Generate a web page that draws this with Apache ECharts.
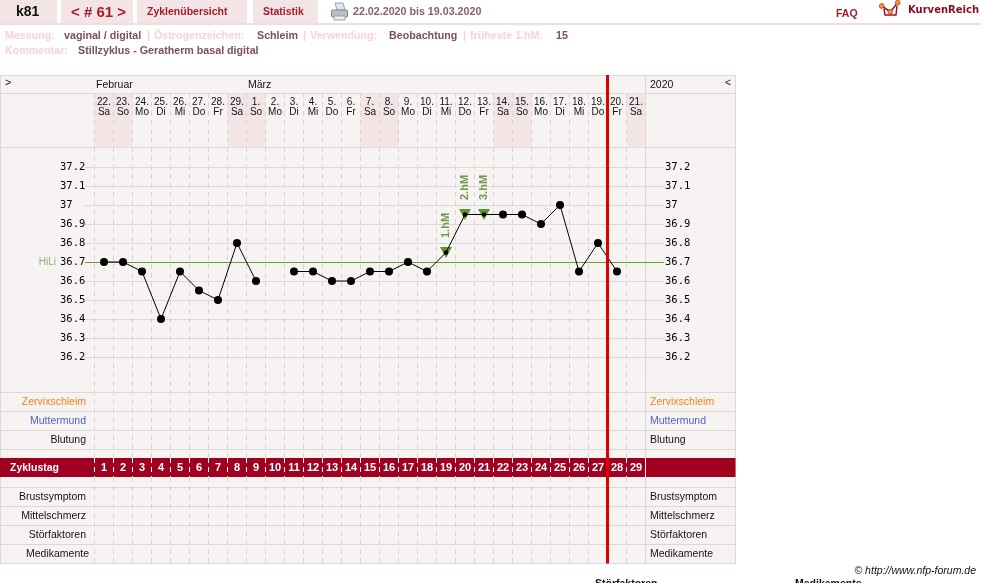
<!DOCTYPE html>
<html>
<head>
<meta charset="utf-8">
<title>Zyklusblatt k81</title>
<style>html,body{margin:0;padding:0;background:#fff}#chart{width:981px;height:583px}</style>
<script src="https://cdn.jsdelivr.net/npm/echarts@6/dist/echarts.min.js"></script>
</head>
<body>
<div id="chart"></div>
<script>
// Cycle data, one entry per cycle day
const cycleDays = [1,2,3,4,5,6,7,8,9,10,11,12,13,14,15,16,17,18,19,20,21,22,23,24,25,26,27,28,29];
const dates = ['22.','23.','24.','25.','26.','27.','28.','29.','1.','2.','3.','4.','5.','6.','7.','8.','9.','10.','11.','12.','13.','14.','15.','16.','17.','18.','19.','20.','21.'];
const weekdays = ['Sa','So','Mo','Di','Mi','Do','Fr','Sa','So','Mo','Di','Mi','Do','Fr','Sa','So','Mo','Di','Mi','Do','Fr','Sa','So','Mo','Di','Mi','Do','Fr','Sa'];
const temperatures = [36.7,36.7,36.65,36.4,36.65,36.55,36.5,36.8,36.6,null,36.65,36.65,36.6,36.6,36.65,36.65,36.7,36.65,36.75,36.95,36.95,36.95,36.95,36.9,37,36.65,36.8,36.65,null];
const higherMeasurements = [[18,36.75,'1.hM'],[19,36.95,'2.hM'],[20,36.95,'3.hM']];
const temperatureTicks = [36.2,36.3,36.4,36.5,36.6,36.7,36.8,36.9,37,37.1,37.2];
const coverLine = 36.7;
const daysElapsed = 27;
const upperRows = ['Zervixschleim','Muttermund','Blutung'];
const lowerRows = ['Brustsymptom','Mittelschmerz','Störfaktoren','Medikamente'];

const SANS = '"Liberation Sans", Arial, sans-serif';
const MONO = '"DejaVu Sans Mono", monospace';
const RULE = '#dcd8d8';
const PANEL = '#f8f3f3';
const WEEKEND = '#f3e4e6';
const MAROON = '#a00020';

const PLOT_LEFT = 94.5, PLOT_WIDTH = 551;
const grid = [], xAxis = [], yAxis = [], series = [];

function addGrid(left, top, width, height) {
  grid.push({ left, top, width, height, containLabel: false });
  return grid.length - 1;
}
function addCategoryX(gridIndex, extra) {
  xAxis.push(Object.assign({
    type: 'category', gridIndex, data: cycleDays, boundaryGap: true,
    axisLine: { show: false }, axisTick: { show: false }, axisLabel: { show: false }, splitLine: { show: false }
  }, extra));
  return xAxis.length - 1;
}
function addY(gridIndex, extra) {
  yAxis.push(Object.assign({
    gridIndex, axisLine: { show: false }, axisTick: { show: false }, axisLabel: { show: false }, splitLine: { show: false }
  }, extra));
  return yAxis.length - 1;
}
function dashes(color) {
  return { show: true, interval: 0, lineStyle: { color, width: 1, type: [5, 4] } };
}

// Dashed day separators above and below the cycle-day band, and inside it
const gUpper = addGrid(PLOT_LEFT, 93, PLOT_WIDTH, 365);
addCategoryX(gUpper, { z: 3, splitLine: dashes('#d9d5d5') });
addY(gUpper, { type: 'value', min: 0, max: 1 });

const gLower = addGrid(PLOT_LEFT, 477, PLOT_WIDTH, 86.5);
addCategoryX(gLower, { z: 3, splitLine: dashes('#d9d5d5') });
addY(gLower, { type: 'value', min: 0, max: 1 });

// Date header with shaded weekends
const gHead = addGrid(PLOT_LEFT, 93.5, PLOT_WIDTH, 54);
const xHead = addCategoryX(gHead, {
  position: 'top', z: 4,
  axisLabel: {
    show: true, inside: true, interval: 0, margin: 4, verticalAlign: 'top',
    color: '#111', fontFamily: SANS, fontSize: 10, lineHeight: 10,
    formatter: (v, i) => dates[i] + '\n' + weekdays[i]
  }
});
const yHead = addY(gHead, { type: 'value', min: 0, max: 1 });
series.push({
  type: 'bar', xAxisIndex: xHead, yAxisIndex: yHead, barWidth: '100%', z: 1, silent: true,
  itemStyle: { color: WEEKEND },
  data: weekdays.map(d => (d === 'Sa' || d === 'So') ? 1 : 0)
});

// Temperature rules and scale labels reach past the day columns on both sides
const RULE_LEFT = 85, RULE_WIDTH = 579;
const gRules = addGrid(RULE_LEFT, 148, RULE_WIDTH, 247);
xAxis.push({ type: 'value', gridIndex: gRules, min: 0, max: 1, show: false });
const xRules = xAxis.length - 1;
const tempLabel = side => ({
  show: true, customValues: temperatureTicks, align: 'left', margin: side === 'left' ? 25 : 1,
  padding: [2, 0, 0, 0],
  color: '#000', fontFamily: MONO, fontSize: 10.5, formatter: v => String(v)
});
const yRulesLeft = addY(gRules, {
  type: 'value', min: 36, max: 37.3, position: 'left', z: 2,
  axisTick: { show: false, customValues: temperatureTicks },
  axisLabel: tempLabel('left'),
  splitLine: { show: true, lineStyle: { color: RULE, width: 1 } }
});
addY(gRules, {
  type: 'value', min: 36, max: 37.3, position: 'right',
  axisTick: { show: false, customValues: temperatureTicks },
  axisLabel: tempLabel('right')
});
series.push({
  type: 'line', xAxisIndex: xRules, yAxisIndex: yRulesLeft, data: [], z: 4, silent: true,
  markLine: {
    silent: true, symbol: 'none', animation: false,
    lineStyle: { color: '#6aa02c', width: 1, type: 'solid' },
    label: { show: true, position: 'start', formatter: 'HiLi', distance: 29, color: '#93ad78', fontFamily: SANS, fontSize: 10 },
    data: [{ yAxis: coverLine }]
  }
});

// Temperature curve and higher-measurement markers
const gMain = addGrid(PLOT_LEFT, 148, PLOT_WIDTH, 247);
const xMain = addCategoryX(gMain, {});
const yMain = addY(gMain, { type: 'value', min: 36, max: 37.3 });
series.push({
  type: 'scatter', xAxisIndex: xMain, yAxisIndex: yMain, z: 5, silent: true,
  symbol: 'triangle', symbolRotate: 180, symbolSize: [12, 11],
  itemStyle: { color: '#5f9232', opacity: 1 },
  label: {
    show: true, position: 'top', rotate: 90, align: 'left', verticalAlign: 'middle', distance: 9,
    color: '#6f9a4a', fontFamily: SANS, fontSize: 11, fontWeight: 'bold',
    formatter: p => p.data[2]
  },
  data: higherMeasurements
});
const flagged = new Set(higherMeasurements.map(m => m[0]));
series.push({
  type: 'line', xAxisIndex: xMain, yAxisIndex: yMain, z: 6, silent: true,
  connectNulls: false, showSymbol: true, showAllSymbol: true, symbol: 'circle',
  symbolSize: (v, p) => flagged.has(p.dataIndex) ? 4.5 : 8,
  lineStyle: { color: '#000', width: 1 }, itemStyle: { color: '#000' },
  data: temperatures
});

// Observation rows
function addRows(top, height, names) {
  const g = addGrid(PLOT_LEFT, top, PLOT_WIDTH, height);
  addCategoryX(g, {});
  const rich = {
    plain: { color: '#111', fontFamily: SANS, fontSize: 10.5, padding: [0, 3, 0, 0] },
    wide: { color: '#111', fontFamily: SANS, fontSize: 10.5 },
    orange: { color: '#f5820f', fontFamily: SANS, fontSize: 10.5, padding: [0, 3, 0, 0] },
    blue: { color: '#4a64c8', fontFamily: SANS, fontSize: 10.5, padding: [0, 3, 0, 0] }
  };
  const styleOf = n => n === 'Zervixschleim' ? 'orange' : n === 'Muttermund' ? 'blue' : n === 'Medikamente' ? 'wide' : 'plain';
  const right = { orange: 'orange', blue: 'blue' };
  addY(g, {
    type: 'category', data: names, inverse: true, position: 'left',
    axisLabel: { show: true, margin: 5.5, interval: 0, rich, formatter: n => `{${styleOf(n)}|${n}}` }
  });
  addY(g, {
    type: 'category', data: names, inverse: true, position: 'right',
    axisLabel: {
      show: true, margin: 4.5, interval: 0, align: 'left', rich: {
        plain: { color: '#111', fontFamily: SANS, fontSize: 10.5 },
        orange: { color: '#f5820f', fontFamily: SANS, fontSize: 10.5 },
        blue: { color: '#4a64c8', fontFamily: SANS, fontSize: 10.5 }
      },
      formatter: n => `{${right[styleOf(n)] || 'plain'}|${n}}`
    }
  });
}
addRows(393, 57, upperRows);
addRows(487.5, 76, lowerRows);

// Cycle-day band
const gBand = addGrid(PLOT_LEFT, 458, PLOT_WIDTH, 19);
addCategoryX(gBand, {
  z: 4, splitLine: dashes('#ffffff'),
  axisLabel: { show: true, inside: true, interval: 0, margin: 4, verticalAlign: 'top', color: '#fff', fontFamily: SANS, fontSize: 11, fontWeight: 'bold' },
  position: 'top'
});
addY(gBand, { type: 'value', min: 0, max: 1 });

// Vertical marker for the current day
const gNow = addGrid(PLOT_LEFT, 75, PLOT_WIDTH, 488.5);
xAxis.push({ type: 'value', gridIndex: gNow, min: 0, max: cycleDays.length, show: false });
const xNow = xAxis.length - 1;
const yNow = addY(gNow, { type: 'value', min: 0, max: 1, show: false });
series.push({
  type: 'line', xAxisIndex: xNow, yAxisIndex: yNow, z: 8, silent: true, showSymbol: false,
  lineStyle: { color: '#dd0000', width: 3 },
  data: [[daysElapsed, 0], [daysElapsed, 1]]
});

// Page furniture around the chart
const g = [];
const rect = (x, y, w, h, fill, z) => g.push({ type: 'rect', shape: { x, y, width: w, height: h }, style: { fill }, z: z == null ? -1 : z, silent: true });
const hline = (y, x0, x1) => rect(x0, y, x1 - x0, 1, RULE, -1);
const text = (s, x, y, font, fill, align) => g.push({ type: 'text', x, y, z: 20, silent: true, style: { text: s, font, fill, align: align || 'left', verticalAlign: 'middle' } });

rect(0, 75, 736, 489, PANEL, -3);
[75, 93, 147, 392, 411, 430, 449, 487, 506, 525, 544, 563].forEach(y => hline(y, 0, 736));
rect(0, 75, 1, 489, RULE, -1);
rect(735, 75, 1, 489, RULE, -1);
rect(645, 75, 1, 489, RULE, -1);
rect(0, 458, 735.5, 19, MAROON, 1);
rect(645, 458, 1, 19, '#f8f3f3', 2);

rect(0, 23, 981, 2, '#f3dcdf', 0);
rect(0, 0, 57, 23, '#f3e4e6', 0);
rect(61, 0, 72, 23, '#f3e4e6', 0);
rect(137, 0, 110, 23, '#f3e4e6', 0);
rect(253, 0, 65, 23, '#f3e4e6', 0);

const TAB = '#a51c2c';
const PALE = '#fbd2d2';
const MUTED = '#7d4f56';
const small = 'bold 10.5px ' + SANS;
const info = 'bold 10.7px ' + SANS;
text('k81', 16, 12, 'bold 14px ' + SANS, '#111');
text('< # 61 >', 71, 12.5, 'bold 15px ' + SANS, TAB);
text('Zyklenübersicht', 147, 12.5, small, TAB);
text('Statistik', 263, 12.5, small, TAB);
text('22.02.2020 bis 19.03.2020', 353, 12.5, info, '#8c5f66');
text('FAQ', 836, 14.5, small, TAB);
text('KurvenReich', 908, 10.5, 'bold 10px "DejaVu Sans", sans-serif', '#8a0a1e');

text('Messung:', 5, 36, info, PALE);
text('vaginal / digital', 64, 36, info, MUTED);
text('|', 147, 36, info, PALE);
text('Östrogenzeichen:', 154, 36, info, PALE);
text('Schleim', 257, 36, info, MUTED);
text('|', 303, 36, info, PALE);
text('Verwendung:', 310, 36, info, PALE);
text('Beobachtung', 389, 36, info, MUTED);
text('|', 463, 36, info, PALE);
text('früheste 1.hM:', 470, 36, info, PALE);
text('15', 556, 36, info, MUTED);
text('Kommentar:', 5, 51, info, PALE);
text('Stillzyklus - Geratherm basal digital', 78, 51, info, MUTED);

const body = '10.5px ' + SANS;
text('>', 5, 83.5, body, '#111');
text('Februar', 96, 85, body, '#111');
text('März', 248, 85, body, '#111');
text('2020', 650, 85, body, '#111');
text('<', 725, 83.5, body, '#111');
text('Zyklustag', 10, 468, 'bold 10.5px ' + SANS, '#fff');

text('© http://www.nfp-forum.de', 976, 571.5, 'italic 10.5px ' + SANS, '#111', 'right');
text('Störfaktoren', 595, 584, small, '#111');
text('Medikamente', 795, 584, small, '#111');

// Printer icon
g.push({ type: 'polygon', z: 20, silent: true, shape: { points: [[335, 3], [343, 3], [345, 10], [337, 10]] }, style: { fill: '#dfe6ee', stroke: '#9aa3ad', lineWidth: 1 } });
g.push({ type: 'rect', z: 21, silent: true, shape: { x: 331.5, y: 10, width: 16, height: 7, r: 1 }, style: { fill: '#b9bec4', stroke: '#7f858c', lineWidth: 1 } });
g.push({ type: 'rect', z: 22, silent: true, shape: { x: 334, y: 16, width: 11, height: 4 }, style: { fill: '#eceef0', stroke: '#9aa3ad', lineWidth: 1 } });

// Logo: small curve over a basket
g.push({ type: 'polyline', z: 20, silent: true, shape: { points: [[884, 9], [885, 15], [896, 15], [897, 6]] }, style: { fill: 'none', stroke: '#a0102a', lineWidth: 1.5 } });
g.push({ type: 'polyline', z: 21, silent: true, shape: { points: [[881.7, 6], [890.3, 11.7], [897.7, 2.7]] }, style: { fill: 'none', stroke: '#a0102a', lineWidth: 1.5 } });
[[881.7, 6], [890.3, 11.7], [897.7, 2.7]].forEach(c => g.push({
  type: 'circle', z: 22, silent: true, shape: { cx: c[0], cy: c[1], r: 2.4 }, style: { fill: '#f59a1e', stroke: '#a0102a', lineWidth: 0.6 }
}));

const chart = echarts.init(document.getElementById('chart'), null, { renderer: 'canvas' });
chart.setOption({
  animation: false,
  backgroundColor: '#fff',
  tooltip: { show: false },
  grid, xAxis, yAxis, series,
  graphic: { elements: g }
});
</script>
</body>
</html>
